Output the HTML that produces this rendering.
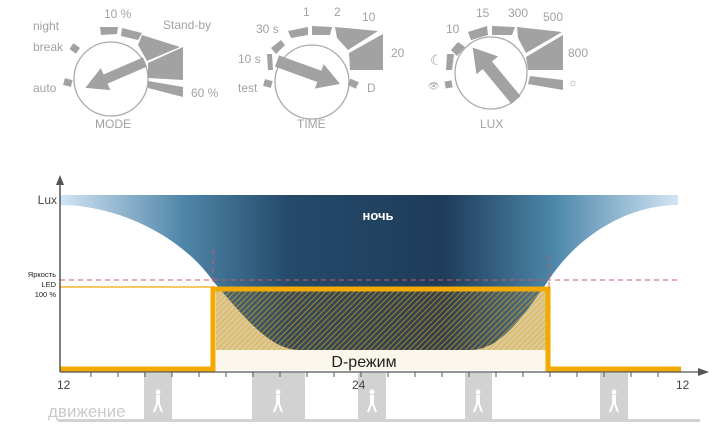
<!DOCTYPE html>
<html><head><meta charset="utf-8"><style>
html,body{margin:0;padding:0;background:#fff;}
svg{display:block;font-family:"Liberation Sans",sans-serif;}
</style></head><body>
<svg width="726" height="442" viewBox="0 0 726 442" xmlns="http://www.w3.org/2000/svg">
<defs>
<linearGradient id="ng" x1="60" x2="678" y1="0" y2="0" gradientUnits="userSpaceOnUse">
<stop offset="0" stop-color="#d2e5f4"/>
<stop offset="0.2" stop-color="#4f86a8"/>
<stop offset="0.37" stop-color="#244a6a"/>
<stop offset="0.62" stop-color="#1f3c5a"/>
<stop offset="0.8" stop-color="#4c87aa"/>
<stop offset="1" stop-color="#d2e5f4"/>
</linearGradient>
<pattern id="hp" width="4" height="4" patternUnits="userSpaceOnUse" patternTransform="rotate(45)">
<rect width="4" height="4" fill="none"/>
<line x1="0" y1="0" x2="0" y2="4" stroke="#e8a820" stroke-width="1.8" stroke-opacity="0.7"/>
</pattern>
</defs>
<g fill="#a2a2a2" font-size="12">
<!-- MODE -->
<circle cx="111" cy="79" r="37" fill="none" stroke="#aaa" stroke-width="1.3"/>
<rect x="64" y="79" width="8" height="7" transform="rotate(15 68 82)"/>
<rect x="71" y="45" width="8" height="7" transform="rotate(35 75 48)"/>
<polygon points="100,27 118,27 117,34 101,35"/>
<polygon points="122,28 142,33 138,40 121,36"/>
<polygon points="142,35 180,47 147,61 138,45"/>
<polygon points="148,63 183,47 183,80 148,78"/>
<polygon points="148,81 183,87 183,97 148,88"/>
<g transform="translate(145,62) rotate(156.6)"><polygon points="0,-5 43,-5 43,-12 65,0 43,12 43,5 0,5"/></g>
<text x="33" y="30">night</text><text x="33" y="51">break</text><text x="33" y="92">auto</text>
<text x="104" y="18">10 %</text><text x="163" y="29">Stand-by</text><text x="191" y="97">60 %</text>
<text x="95" y="128">MODE</text>
<!-- TIME -->
<circle cx="312" cy="82" r="37" fill="none" stroke="#aaa" stroke-width="1.3"/>
<rect x="264" y="80" width="8" height="7" transform="rotate(15 268 83)"/>
<polygon points="267,54 272,54 273,70 268,70"/>
<polygon points="271,48 281,40 285,45 276,54"/>
<polygon points="288,31 308,27 308,35 291,38"/>
<polygon points="312,26 332,27 330,35 312,35"/>
<polygon points="335,27 378,31 348,50 337,38"/>
<polygon points="349,53 383,34 383,70 350,70"/>
<rect x="349" y="80" width="9" height="7" transform="rotate(25 353 83)"/>
<g transform="translate(277,61) rotate(20)"><polygon points="0,-6 45,-6 45,-13 67,0 45,13 45,6 0,6"/></g>
<text x="238" y="92">test</text><text x="238" y="63">10 s</text><text x="256" y="33">30 s</text>
<text x="303" y="16">1</text><text x="334" y="16">2</text><text x="362" y="21">10</text>
<text x="391" y="57">20</text><text x="367" y="92">D</text><text x="297" y="128">TIME</text>
<!-- LUX -->
<circle cx="491" cy="73" r="36" fill="none" stroke="#aaa" stroke-width="1.3"/>
<rect x="445" y="81" width="7" height="7" transform="rotate(-10 448 84)"/>
<polygon points="447,54 454,54 452,70 446,70"/>
<polygon points="451,50 458,42 465,47 457,56"/>
<polygon points="468,32 487,26 488,35 471,40"/>
<polygon points="492,26 515,27 512,35 492,35"/>
<polygon points="517,27 562,32 526,53 518,38"/>
<polygon points="526,57 563,35 563,70 528,70"/>
<polygon points="530,76 563,80 563,90 528,84"/>
<g transform="translate(516,100) rotate(230.4)"><polygon points="0,-6 45,-6 45,-14 68,0 45,14 45,6 0,6"/></g>
<text x="430" y="65" font-size="14">☾</text><text x="428" y="89" font-size="9">👁</text>
<text x="446" y="33">10</text><text x="476" y="17">15</text><text x="508" y="17">300</text>
<text x="543" y="21">500</text><text x="568" y="57">800</text><text x="568" y="86" font-size="11">☼</text>
<text x="480" y="128">LUX</text>
</g>
<!-- chart -->
<rect x="216" y="291" width="330" height="59" fill="#fff0c0"/>
<path d="M60,195 H678 V205 C628,205 578,235 548,281 C522,318 500,350 470,350 H300 C270,350 245,318 213,281 C183,238 120,205 60,205 Z" fill="url(#ng)"/>
<rect x="216" y="291" width="330" height="59" fill="#6a5020" opacity="0.25"/>
<rect x="216" y="291" width="330" height="59" fill="url(#hp)"/>
<rect x="216" y="350" width="330" height="20" fill="#faf6ec"/>
<line x1="60" y1="280" x2="680" y2="280" stroke="#c85a6a" stroke-width="1" stroke-dasharray="5,4"/>
<line x1="213" y1="250" x2="213" y2="290" stroke="#c85a6a" stroke-width="1" stroke-dasharray="5,4"/>
<line x1="549" y1="255" x2="549" y2="305" stroke="#c85a6a" stroke-width="1" stroke-dasharray="5,4"/>
<line x1="60" y1="287" x2="213" y2="287" stroke="#f2a900" stroke-width="1.3"/>
<polyline points="60,369 213,369 213,289 548,289 548,369 681,369" fill="none" stroke="#f2a900" stroke-width="5"/>
<!-- motion boxes -->
<g fill="#d2d2d2">
<rect x="144" y="373" width="28" height="48"/><rect x="252" y="373" width="53" height="48"/>
<rect x="358" y="373" width="28" height="48"/><rect x="465" y="373" width="27" height="48"/>
<rect x="600" y="373" width="28" height="48"/>
<rect x="58" y="419" width="642" height="3"/>
</g>
<g fill="#fff">
<g transform="translate(158,392)"><circle cx="0" cy="0" r="2.5"/><rect x="-2" y="3" width="4" height="10"/><path d="M-1,12 L-4,20 M1,12 L4,20" stroke="#fff" stroke-width="2"/></g>
<g transform="translate(278,392)"><circle cx="0" cy="0" r="2.5"/><rect x="-2" y="3" width="4" height="10"/><path d="M-1,12 L-4,20 M1,12 L4,20" stroke="#fff" stroke-width="2"/></g>
<g transform="translate(372,392)"><circle cx="0" cy="0" r="2.5"/><rect x="-2" y="3" width="4" height="10"/><path d="M-1,12 L-4,20 M1,12 L4,20" stroke="#fff" stroke-width="2"/></g>
<g transform="translate(478,392)"><circle cx="0" cy="0" r="2.5"/><rect x="-2" y="3" width="4" height="10"/><path d="M-1,12 L-4,20 M1,12 L4,20" stroke="#fff" stroke-width="2"/></g>
<g transform="translate(614,392)"><circle cx="0" cy="0" r="2.5"/><rect x="-2" y="3" width="4" height="10"/><path d="M-1,12 L-4,20 M1,12 L4,20" stroke="#fff" stroke-width="2"/></g>
</g>
<!-- axes -->
<line x1="60" y1="372" x2="60" y2="182" stroke="#555" stroke-width="1.5"/>
<polygon points="60,175 56,185 64,185" fill="#555"/>
<line x1="60" y1="372" x2="700" y2="372" stroke="#555" stroke-width="1.2"/>
<polygon points="709,372 698,368 698,376" fill="#555"/>
<g stroke="#555" stroke-width="1">
<path d="M91,372v5M118,372v5M145,372v5M172,372v5M199,372v5M226,372v5M253,372v5M280,372v5M307,372v5M334,372v5M361,372v5M388,372v5M415,372v5M442,372v5M469,372v5M496,372v5M523,372v5M550,372v5M577,372v5M604,372v5M631,372v5M658,372v5"/>
</g>
<g fill="#444" font-size="12">
<text x="57" y="389">12</text><text x="352" y="389">24</text><text x="676" y="389">12</text>
<text x="57" y="204" text-anchor="end">Lux</text>
</g>
<g fill="#222" font-size="7.5" text-anchor="end">
<text x="56" y="277">Яркость</text><text x="56" y="287">LED</text><text x="56" y="297">100 %</text>
</g>
<text x="48" y="417" font-size="17" fill="#cacaca">движение</text>
<text x="378" y="220" font-size="13" fill="#fff" font-weight="bold" text-anchor="middle">ночь</text>
<text x="364" y="367" font-size="16" fill="#222" text-anchor="middle">D-режим</text>
</svg>
</body></html>
